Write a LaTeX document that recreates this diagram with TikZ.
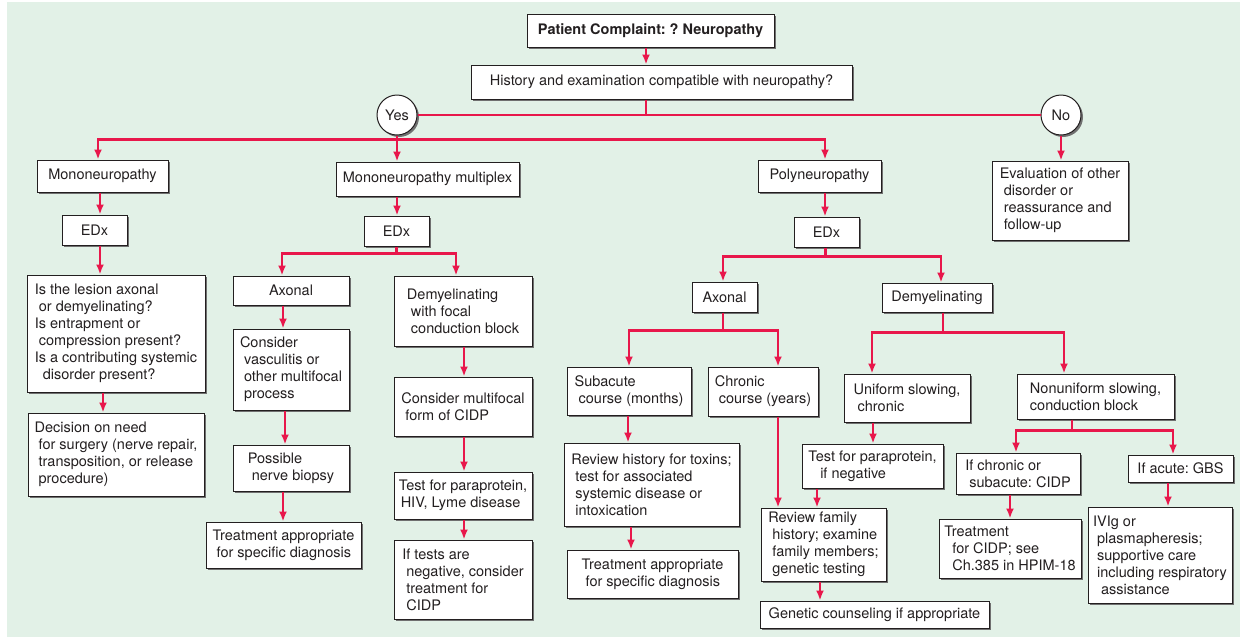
\documentclass[tikz,border=0pt]{standalone}
\usepackage{fontspec}
\setmainfont{TeX Gyre Heros}
\usepackage{tikz}
\usetikzlibrary{arrows.meta,shadows}
\definecolor{nbgreen}{HTML}{E2F1E7}
\definecolor{nbred}  {HTML}{E8174B}
\definecolor{nbshade}{HTML}{707070}
\definecolor{nbtext} {HTML}{231F20}
\newcommand\nbsize{\fontsize{14.5}{17}\selectfont\frenchspacing}
\newcommand\brkin[1][4pt]{\\\hspace*{#1}}

\begin{document}
\begin{tikzpicture}[x=1pt, y=-1pt,
    every node/.style={font=\nbsize, text=nbtext},
    box/.style={draw=nbtext, line width=1pt, fill=white, align=left, inner sep=0pt,
      drop shadow={shadow xshift=2pt, shadow yshift=-2pt, fill=nbshade, opacity=1}},
    sz/.style 2 args={minimum width=#1pt, minimum height=#2pt},
    answer/.style={box, circle, minimum size=40pt},
    link/.style={nbred, line width=2.2pt},
    arr/.style={link, -{Latex[length=10pt,width=8pt]}}]
  \useasboundingbox (0,0) rectangle (1240,638);
  \fill[white] (0,0) rectangle (1240,638);
  \fill[nbgreen] (7,2) rectangle (1240,637);

  \node[box, sz={247}{33}, font=\nbsize\bfseries] (pat) at (650.5,30.5) {Patient Complaint: ? Neuropathy};
  \node[box, sz={381}{34}] (hist) at (661.5,82) {History and examination compatible with neuropathy?};
  \node[answer] (yes) at (397,115) {Yes};
  \node[answer] (no) at (1061,115) {No};

  \node[box, sz={131}{32}] (mono) at (102.5,176) {Mononeuropathy};
  \node[box, sz={183}{34}] (mmult) at (427.5,179) {Mononeuropathy multiplex};
  \node[box, sz={123}{32}] (poly) at (819.5,176) {Polyneuropathy};
  \node[box, sz={136}{79}] (eval) at (1060,200.5) {Evaluation of other\brkin disorder or\brkin reassurance and\brkin follow-up};

  \node[box, sz={65}{30}] (edx1) at (94.5,230) {EDx};
  \node[box, sz={65}{30}] (edx2) at (396.5,231) {EDx};
  \node[box, sz={65}{30}] (edx3) at (826.5,232) {EDx};

  % mononeuropathy
  \node[box, sz={178}{117}] (lesion) at (116,333.5) {Is the lesion axonal\brkin or demyelinating?\\Is entrapment or\brkin compression present?\\Is a contributing systemic\brkin[8pt]disorder present?};
  \node[box, sz={176}{83}] (decis) at (116,454.5) {Decision on need\brkin for surgery (nerve repair,\brkin transposition, or release\brkin procedure)};

  % mononeuropathy multiplex
  \node[box, sz={116}{29}] (ax1) at (291,290.5) {Axonal};
  \node[box, sz={116}{81}] (vasc) at (291,369.5) {Consider\brkin vasculitis or\brkin other multifocal\brkin process};
  \node[box, sz={116}{46}] (biopsy) at (291,468) {Possible\brkin nerve biopsy};
  \node[box, sz={155}{46}] (treat1) at (283.5,545) {Treatment appropriate\brkin for specific diagnosis};
  \node[box, sz={138}{70}] (demfoc) at (463,311) {Demyelinating\brkin with focal\brkin conduction block};
  \node[box, sz={138}{59}] (multcidp) at (463,406.5) {Consider multifocal\brkin form of CIDP};
  \node[box, sz={138}{47}] (testhiv) at (463,495.5) {Test for paraprotein,\brkin[2pt]HIV, Lyme disease};
  \node[box, sz={138}{79}] (iftests) at (463,579.5) {If tests are\brkin negative, consider\brkin treatment for\brkin CIDP};

  % polyneuropathy
  \node[box, sz={65}{30}] (ax2) at (724.5,297) {Axonal};
  \node[box, sz={110}{29}] (dem2) at (937,297.5) {Demyelinating};
  \node[box, sz={124}{48}] (subac) at (629,391) {Subacute\brkin course (months)};
  \node[box, sz={110}{49}] (chron) at (763,391.5) {Chronic\brkin course (years)};
  \node[box, sz={175}{83}] (toxins) at (651.5,484.5) {Review history for toxins;\brkin test for associated\brkin systemic disease or\brkin intoxication};
  \node[box, sz={171}{48}] (treat2) at (652.5,574) {Treatment appropriate\brkin for specific diagnosis};
  \node[box, sz={126}{48}] (unif) at (907,398) {Uniform slowing,\brkin chronic};
  \node[box, sz={157}{45}] (nonunif) at (1095.5,396.5) {Nonuniform slowing,\\conduction block};
  \node[box, sz={141}{44}] (testpp) at (872.5,466) {Test for paraprotein,\brkin[12pt]if negative};
  \node[box, sz={125}{73}] (family) at (823.5,544.5) {Review family\brkin history; examine\brkin family members;\brkin genetic testing};
  \node[box, sz={229}{27}] (genet) at (874.5,614.5) {Genetic counseling if appropriate};
  \node[box, sz={124}{41}] (ifchron) at (1018,473.5) {If chronic or\brkin subacute: CIDP};
  \node[box, sz={105}{27}] (ifacute) at (1180.5,468.5) {If acute: GBS};
  \node[box, sz={142}{59}] (treatcidp) at (1010,548.5) {Treatment\brkin[8pt]for CIDP; see\brkin[8pt]Ch.385 in HPIM-18};
  \node[box, sz={144}{96}] (ivig) at (1160,555) {IVIg or\brkin plasmapheresis;\brkin supportive care\brkin including respiratory\brkin[8pt]assistance};

  \draw[link] ([xshift=-15.5pt]hist.south) -- ++(0,16);
  \draw[link] (yes.east) -- (no.west);

  % straight arrows: from/to/xshift
  \foreach \a/\b/\s in {pat/hist/-4.5, yes/mmult/0, no/eval/0, mono/edx1/-2.5,
                        edx1/lesion/5.5, lesion/decis/-13, mmult/edx2/-30.5,
                        poly/edx3/5.5, ax1/vasc/-8, vasc/biopsy/-6, biopsy/treat1/-8,
                        demfoc/multcidp/1, multcidp/testhiv/1, testhiv/iftests/1,
                        subac/toxins/-1, toxins/treat2/-20.5, chron/family/15,
                        unif/testpp/-34, testpp/family/-55.5, family/genet/-3.5,
                        ifchron/treatcidp/-8, ifacute/ivig/-12.5}
    \draw[arr] ([xshift=\s pt]\a.south) -- ([xshift=\s pt]\a.south |- \b.north);

  % branching arrows: from/xshift/drop/to/xshift
  \foreach \a/\sa/\d/\b/\sb in {yes/0/4/mono/-4.5, yes/0/4/poly/5.5,
                                edx2/0/7/ax1/-9, edx2/0/7/demfoc/-7,
                                edx3/-1/9/ax2/-1.5, edx3/-1/9/dem2/4,
                                ax2/-1.5/18/subac/0, ax2/-1.5/18/chron/15,
                                dem2/6/20/unif/-35, dem2/6/20/nonunif/-31.5,
                                nonunif/-23.5/11/ifchron/-2, nonunif/-23.5/11/ifacute/-7.5}
    \draw[arr] ([xshift=\sa pt]\a.south) -- ++(0,\d) -| ([xshift=\sb pt]\b.north);
\end{tikzpicture}
\end{document}
